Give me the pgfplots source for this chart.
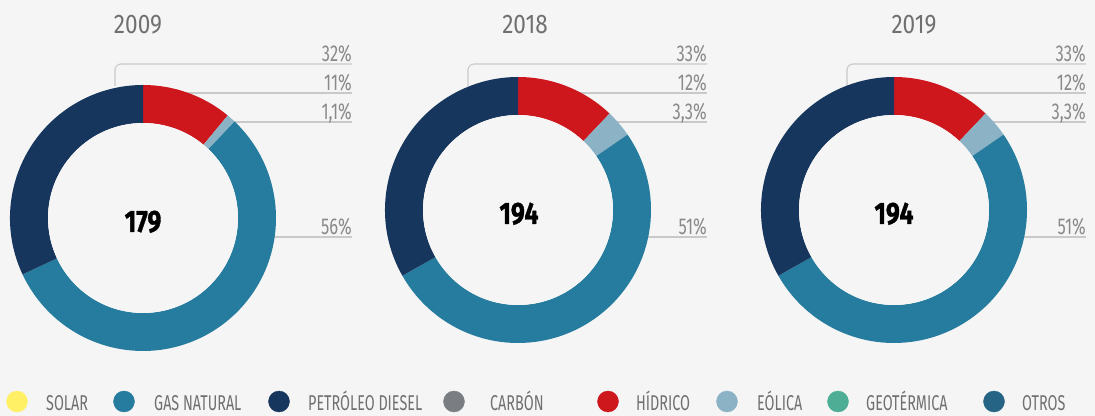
\documentclass[border=0pt]{standalone}
\usepackage{fontspec}
\setmainfont{Fira Sans}
\newfontfamily\labfont{Fira Sans}[FakeStretch=0.72]
\newfontfamily\titfont{Fira Sans}[FakeStretch=0.84]
\newfontfamily\numfont{Fira Sans}[FakeStretch=0.8, BoldFeatures={FakeBold=1.2}]
\newfontfamily\legfont{Fira Sans}[FakeStretch=0.67]
\usepackage{pgfplots}
\pgfplotsset{compat=1.18}
\definecolor{bg}{HTML}{F5F5F5}
\definecolor{csolar}{HTML}{FFF066}
\definecolor{cgas}{HTML}{267C9E}
\definecolor{cpet}{HTML}{17365D}
\definecolor{ccarbon}{HTML}{7A7E83}
\definecolor{chid}{HTML}{CE171C}
\definecolor{ceol}{HTML}{8CB2C5}
\definecolor{cgeo}{HTML}{4DAE95}
\definecolor{cotros}{HTML}{266486}
\definecolor{txt}{HTML}{707070}
\definecolor{pct}{HTML}{8A8A8A}
\definecolor{ldr}{HTML}{C9C9C9}

% annular sector: cx cy a1 a2 colour
\newcommand\mysector[5]{%
  \fill[#5] (axis cs:#1,#2) ++({#3}:133bp) arc[start angle={#3}, end angle={#4}, radius=133bp]
     -- ++({#4+180}:38bp) arc[start angle={#4}, end angle={#3}, radius=95bp] -- cycle;}
% donut: cx cy hidrico eolica gas petroleo
\newcommand\mydonut[6]{%
  \mysector{#1}{#2}{90}{90-360/(#3+#4+#5+#6)*(#3)}{chid}
  \mysector{#1}{#2}{90-360/(#3+#4+#5+#6)*(#3)}{90-360/(#3+#4+#5+#6)*(#3+#4)}{ceol}
  \mysector{#1}{#2}{90-360/(#3+#4+#5+#6)*(#3+#4)}{90-360/(#3+#4+#5+#6)*(#3+#4+#5)}{cgas}
  \mysector{#1}{#2}{90-360/(#3+#4+#5+#6)*(#3+#4+#5)}{-270}{cpet}
  \fill[bg] (axis cs:#1,#2) circle[radius=95bp];}
% leaders: cornerx rightx cx label1 label2 label3 label4
\newcommand\myleaders[7]{%
  \draw[ldr, line width=1.1bp, rounded corners=6bp] (axis cs:#1,330) |- (axis cs:#2,352);
  \draw[ldr, line width=1.1bp] (axis cs:#3,323) -- (axis cs:#2,323);
  \draw[ldr, line width=1.1bp] (axis cs:#3+40,294) -- (axis cs:#2,294);
  \draw[ldr, line width=1.1bp] (axis cs:#3+60,179) -- (axis cs:#2,179);
  \node[anchor=base east, inner sep=0pt, text=pct] at (axis cs:#2,354.5) {\labfont\fontsize{23}{23}\selectfont #4};
  \node[anchor=base east, inner sep=0pt, text=pct] at (axis cs:#2,325.5) {\labfont\fontsize{23}{23}\selectfont #5};
  \node[anchor=base east, inner sep=0pt, text=pct] at (axis cs:#2,296.5) {\labfont\fontsize{23}{23}\selectfont #6};
  \node[anchor=base east, inner sep=0pt, text=pct] at (axis cs:#2,181.5) {\labfont\fontsize{23}{23}\selectfont #7};}
\newcommand\legentry[4]{% markx textx colour text
  \addplot[only marks, mark=*, mark size=10.5bp, color=#3] coordinates {(#1,14.5)};
  \node[anchor=base west, inner sep=0pt, text=txt] at (axis cs:#2,5.5) {\legfont\fontsize{21.5}{21.5}\selectfont #4};}

\begin{document}
\begin{tikzpicture}
\fill[bg] (0,0) rectangle (1095bp,416bp);
\useasboundingbox (0,0) rectangle (1095bp,416bp);
\begin{axis}[at={(0,0)}, anchor=south west, width=1095bp, height=416bp, scale only axis,
  xmin=0, xmax=1095, ymin=0, ymax=416, hide axis, clip=false]
% leader lines and percentages
\myleaders{115}{352}{143}{32\%}{11\%}{1,1\%}{56\%}
\myleaders{468}{707}{518}{33\%}{12\%}{3,3\%}{51\%}
\myleaders{847}{1086}{894}{33\%}{12\%}{3,3\%}{51\%}
% donuts: hidrico, eolica, gas natural, petroleo diesel
\mydonut{143}{198}{11}{1.1}{56}{32}
\mydonut{518}{206}{12}{3.3}{51}{33}
\mydonut{894}{206}{12}{3.3}{51}{33}
% titles
\node[anchor=base, inner sep=0pt, text=txt] at (axis cs:138,382) {\titfont\fontsize{27}{27}\selectfont 2009};
\node[anchor=base, inner sep=0pt, text=txt] at (axis cs:525,382) {\titfont\fontsize{27}{27}\selectfont 2018};
\node[anchor=base, inner sep=0pt, text=txt] at (axis cs:914,382) {\titfont\fontsize{27}{27}\selectfont 2019};
% totals
\node[anchor=base, inner sep=0pt] at (axis cs:143,184) {\numfont\bfseries\fontsize{31}{31}\selectfont 179};
\node[anchor=base, inner sep=0pt] at (axis cs:519,192) {\numfont\bfseries\fontsize{31}{31}\selectfont 194};
\node[anchor=base, inner sep=0pt] at (axis cs:894,192) {\numfont\bfseries\fontsize{31}{31}\selectfont 194};
% legend
\legentry{17}{46}{csolar}{SOLAR}
\legentry{124}{154}{cgas}{GAS NATURAL}
\legentry{279}{308}{cpet}{PETRÓLEO DIESEL}
\legentry{454}{490}{ccarbon}{CARBÓN}
\legentry{608}{636}{chid}{HÍDRICO}
\legentry{727}{757}{ceol}{EÓLICA}
\legentry{838}{866}{cgeo}{GEOTÉRMICA}
\legentry{994}{1022}{cotros}{OTROS}
\end{axis}
\end{tikzpicture}
\end{document}
